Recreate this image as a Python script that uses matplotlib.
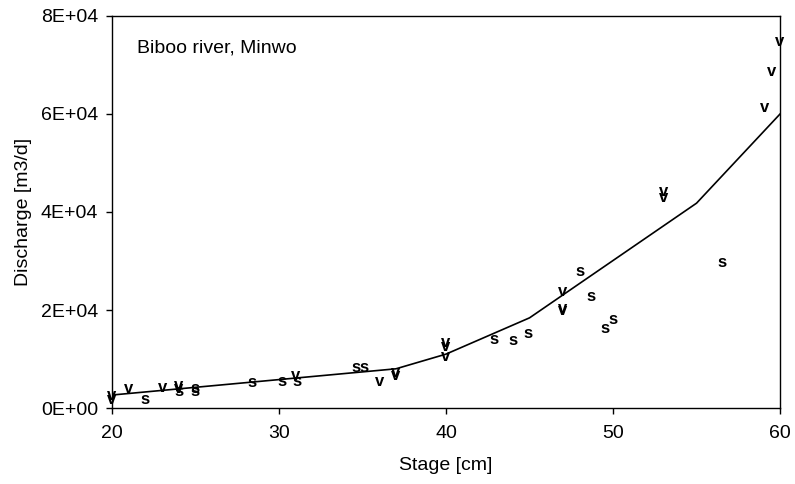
import matplotlib
matplotlib.use("Agg")
import matplotlib.pyplot as plt
from matplotlib.ticker import FuncFormatter, MultipleLocator

plt.rcParams['font.family'] = ['Liberation Sans', 'DejaVu Sans']

# Rating curve (line)
curve_stage = [20, 30, 37, 40, 45, 55, 60]
curve_q = [2650, 5800, 8000, 11000, 18400, 41800, 60000]

# "v" observations
v_stage = [20, 20, 21, 23, 24, 24, 31, 36, 37, 37, 40, 40, 40, 47, 47, 47, 53, 53, 59.1, 59.5, 60]
v_q = [2600, 1800, 3900, 4100, 4500, 4000, 6700, 5500, 6700, 7200, 13300, 12500, 10600,
       23700, 20400, 19800, 44200, 43000, 61400, 68600, 74700]

# "s" observations
s_stage = [22, 24, 25, 25, 28.4, 30.2, 31.1, 34.6, 35.1, 42.9, 44, 44.9, 48, 48.7, 49.5, 50, 56.5]
s_q = [1800, 3300, 4000, 3300, 5300, 5500, 5500, 8200, 8200, 13900, 13700, 15300,
       27800, 22700, 16300, 18000, 29600]

fig = plt.figure(figsize=(7.95, 4.84), dpi=100)
ax = fig.add_axes([0.1409, 0.157, 0.8403, 0.810])

ax.plot(curve_stage, curve_q, color='black', lw=1.2, zorder=2)

for x, y in zip(v_stage, v_q):
    ax.text(x, y, 'v', ha='center', va='center', fontsize=12, fontweight='bold', zorder=3)
for x, y in zip(s_stage, s_q):
    ax.text(x, y, 's', ha='center', va='center', fontsize=12, fontweight='bold', zorder=3)

ax.set_xlim(20, 60)
ax.set_ylim(0, 80000)
ax.xaxis.set_major_locator(MultipleLocator(10))
ax.yaxis.set_major_locator(MultipleLocator(20000))
ax.yaxis.set_major_formatter(FuncFormatter(lambda v, p: format(v, '.0E')))
ax.tick_params(direction='out', length=4, width=1, labelsize=14)
ax.tick_params(axis='x', pad=8)
ax.tick_params(axis='y', pad=6)

for sp in ax.spines.values():
    sp.set_linewidth(1.0)

ax.set_xlabel('Stage [cm]', fontsize=14, labelpad=11)
ax.set_ylabel('Discharge [m3/d]', fontsize=14, labelpad=6)
ax.text(0.037, 0.918, 'Biboo river, Minwo', transform=ax.transAxes, fontsize=14,
        ha='left', va='center')

fig.savefig('out.png', dpi=100)
